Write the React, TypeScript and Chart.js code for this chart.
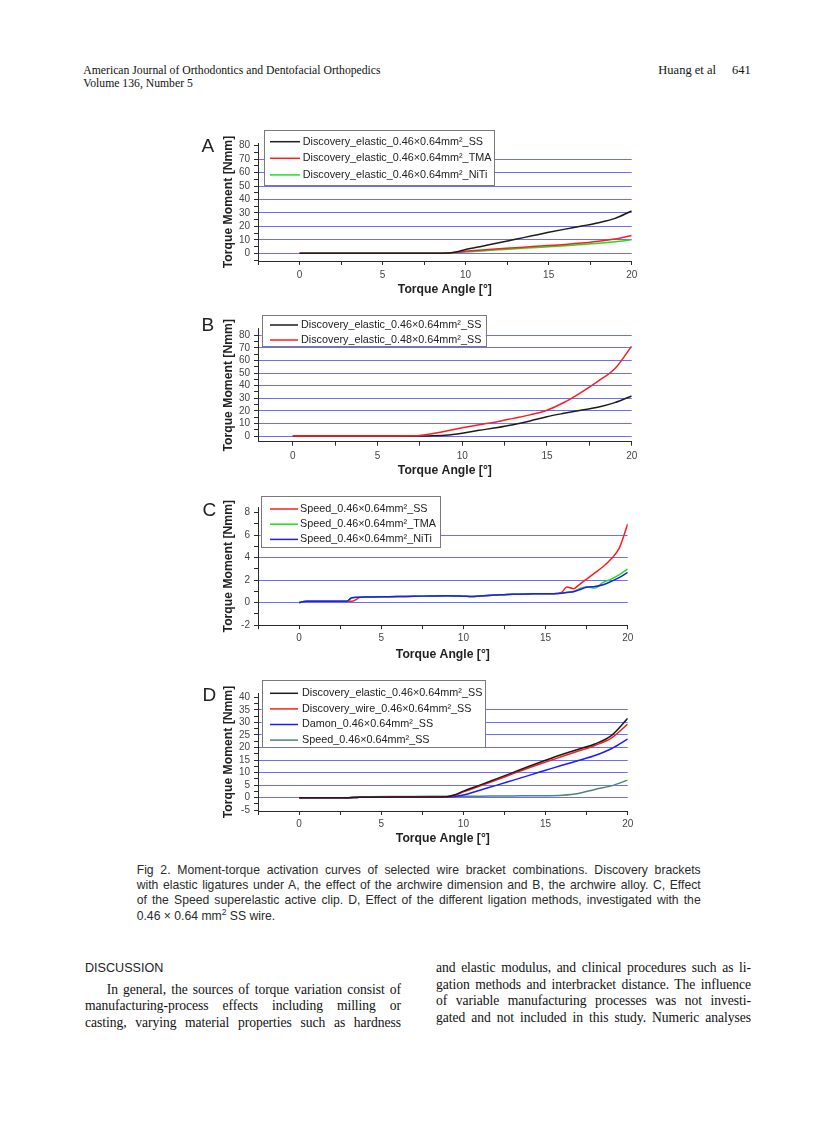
import React, { useEffect, useRef } from 'react';
import { Chart, registerables } from 'chart.js';

Chart.register(...registerables);

// ---------------- DATA ----------------
// Panel A
const angleA = [0, 2, 4, 6, 8, 9, 9.5, 10, 11, 12, 13, 14, 15, 16, 17, 18, 19, 20];
const momentA_SS = [0, 0, 0, 0, 0.1, 0.3, 1.2, 2.8, 5.3, 7.8, 10.4, 13, 15.6, 18, 20.3, 22.8, 26, 31.5];
const momentA_TMA = [0, 0, 0, 0, 0, 0.3, 0.8, 1.5, 2.5, 3.4, 4.2, 5, 5.8, 6.6, 7.6, 9, 10.6, 13.2];
const momentA_NiTi = [0, 0, 0, 0, 0, 0.2, 0.6, 1.0, 1.8, 2.6, 3.4, 4.1, 4.8, 5.6, 6.5, 7.5, 8.6, 10];

// Panel B
const angleB = [0, 2, 4, 6, 7, 7.5, 8, 9, 10, 11, 12, 13, 14, 15, 16, 17, 18, 19, 20];
const momentB_046 = [0, 0, 0, 0, 0, 0, 0.1, 0.6, 2.2, 4.5, 6.6, 9, 12, 15.3, 18, 20.5, 22.8, 26.5, 31.8];
const momentB_048 = [0, 0, 0, 0, 0.2, 0.5, 1.4, 3.8, 6.6, 9, 11.2, 14, 16.8, 20.5, 26.6, 34.5, 43.4, 53.4, 71.3];

// Panel C
const angleC = [0, 0.3, 0.5, 1, 2, 2.9, 3.2, 3.5, 3.7, 4, 5, 6, 7, 8, 9, 10, 10.5, 11, 12, 13, 14, 15, 15.5, 16, 16.3, 16.7, 17, 17.5, 18, 18.5, 19, 19.5, 20];
const momentC_SS = [0.02, 0.1, 0.12, 0.12, 0.12, 0.12, 0.12, 0.3, 0.48, 0.5, 0.52, 0.55, 0.57, 0.6, 0.62, 0.58, 0.55, 0.6, 0.68, 0.75, 0.78, 0.8, 0.8, 0.95, 1.4, 1.25, 1.55, 2.1, 2.65, 3.2, 3.9, 4.9, 7.0];
const momentC_TMA = [0.02, 0.1, 0.12, 0.12, 0.12, 0.12, 0.42, 0.47, 0.48, 0.5, 0.52, 0.55, 0.57, 0.6, 0.62, 0.58, 0.55, 0.6, 0.68, 0.75, 0.78, 0.8, 0.8, 0.85, 0.92, 1.0, 1.2, 1.42, 1.3, 1.8, 2.1, 2.5, 3.0];
const momentC_NiTi = [0.02, 0.1, 0.12, 0.12, 0.12, 0.13, 0.45, 0.48, 0.49, 0.5, 0.52, 0.55, 0.57, 0.6, 0.62, 0.58, 0.55, 0.6, 0.68, 0.75, 0.78, 0.8, 0.8, 0.85, 0.9, 0.98, 1.12, 1.38, 1.45, 1.6, 1.9, 2.25, 2.7];

// Panel D
const angleD = [0, 2, 3, 3.5, 4, 6, 8, 9, 9.5, 10, 11, 12, 13, 14, 15, 16, 17, 18, 19, 20];
const momentD_elastic = [0, 0, 0, 0.1, 0.2, 0.3, 0.3, 0.4, 1.2, 2.6, 5, 7.5, 10, 12.5, 14.9, 17.2, 19.3, 21.4, 24.7, 31.6];
const momentD_wire = [0, 0, 0, 0.1, 0.2, 0.3, 0.3, 0.4, 1.0, 2.3, 4.6, 7.0, 9.5, 11.9, 14.2, 16.4, 18.6, 20.8, 23.7, 29.3];
const momentD_damon = [0, 0, 0, 0.1, 0.2, 0.3, 0.3, 0.35, 0.5, 1.05, 3.0, 4.9, 6.9, 8.9, 10.9, 12.9, 14.8, 16.8, 19.5, 23.4];
const momentD_speed = [0, 0, 0, 0.3, 0.4, 0.5, 0.55, 0.6, 0.6, 0.6, 0.6, 0.65, 0.7, 0.75, 0.8, 1.0, 1.7, 3.3, 4.7, 7.0];

// Tick labels
const xMajorTicks = [0, 5, 10, 15, 20];
const xMinorTicks = [-2.5, 2.5, 7.5, 12.5, 17.5];
const yMajorAB = [0, 10, 20, 30, 40, 50, 60, 70, 80];
const yMinorAB = [-5, 5, 15, 25, 35, 45, 55, 65, 75];
const yMajorC = [-2, 0, 2, 4, 6, 8];
const yMinorC = [-1, 1, 3, 5, 7];
const yMajorD = [-5, 0, 5, 10, 15, 20, 25, 30, 35, 40];
const yMinorD = [-2.5, 2.5, 7.5, 12.5, 17.5, 22.5, 27.5, 32.5, 37.5];
const gridA = [0, 10, 20, 30, 40, 50, 60, 70];
const gridB = [0, 10, 20, 30, 40, 50, 60, 70, 80];
const gridC = [0, 2, 4, 6];
const gridD = [0, 5, 10, 15, 20, 25, 30, 35];

const X_TITLE = 'Torque Angle [°]';
const Y_TITLE = 'Torque Moment [Nmm]';

// ---------------- STYLE ----------------
const BLACK = '#1c1c1c';
const RED = '#ff1c1c';
const GREEN = '#22dd22';
const BLUE = '#1c1cff';
const TEAL = '#4f8575';
const GRID_BLUE = '#6c6cff';
const AXIS_COLOR = '#2a2a2a';
const SANS = '"Liberation Sans", Arial, sans-serif';
const SERIF = '"Liberation Serif", "Times New Roman", serif';
const CANVAS_LEFT = 190;
const CANVAS_W = 460;

type Series = { label: string; xs: number[]; ys: number[]; color: string; order: number };
type Legend = { x: number; y: number; w: number; h: number; first: number; row: number; l1: number; l2: number; tx: number };
type PanelCfg = {
  letter: string;
  letterX: number;
  letterY: number;
  canvasTop: number;
  canvasBottom: number;
  plotLeft: number;
  plotRight: number;
  plotTop: number;
  plotBottom: number;
  xMin: number;
  xMax: number;
  yMin: number;
  yMax: number;
  yMajor: number[];
  yMinor: number[];
  grid: number[];
  xLabelGap: number;
  xTitleY: number;
  yTitleX: number;
  legend: Legend;
  series: Series[];
};

const PANELS: PanelCfg[] = [
  {
    letter: 'A', letterX: 201.5, letterY: 151.7,
    canvasTop: 123, canvasBottom: 300,
    plotLeft: 258, plotRight: 631.7, plotTop: 143, plotBottom: 261,
    xMin: -2.5, xMax: 20, yMin: -5.7, yMax: 82,
    yMajor: yMajorAB, yMinor: yMinorAB, grid: gridA,
    xLabelGap: 14.5, xTitleY: 290, yTitleX: 228.3,
    legend: { x: 264, y: 130, w: 230, h: 55, first: 11.7, row: 16.6, l1: 6, l2: 36, tx: 38.7 },
    series: [
      { label: 'Discovery_elastic_0.46×0.64mm²_SS', xs: angleA, ys: momentA_SS, color: BLACK, order: 0 },
      { label: 'Discovery_elastic_0.46×0.64mm²_TMA', xs: angleA, ys: momentA_TMA, color: RED, order: 1 },
      { label: 'Discovery_elastic_0.46×0.64mm²_NiTi', xs: angleA, ys: momentA_NiTi, color: GREEN, order: 2 },
    ],
  },
  {
    letter: 'B', letterX: 201.5, letterY: 331,
    canvasTop: 305, canvasBottom: 481,
    plotLeft: 258, plotRight: 631.7, plotTop: 328.9, plotBottom: 441.7,
    xMin: -2.05, xMax: 20, yMin: -4.5, yMax: 85,
    yMajor: yMajorAB, yMinor: yMinorAB, grid: gridB,
    xLabelGap: 15, xTitleY: 470.7, yTitleX: 228.3,
    legend: { x: 261.7, y: 315, w: 224, h: 30.7, first: 10, row: 15, l1: 8.3, l2: 36.3, tx: 39.3 },
    series: [
      { label: 'Discovery_elastic_0.46×0.64mm²_SS', xs: angleB, ys: momentB_046, color: BLACK, order: 1 },
      { label: 'Discovery_elastic_0.48×0.64mm²_SS', xs: angleB, ys: momentB_048, color: RED, order: 0 },
    ],
  },
  {
    letter: 'C', letterX: 202.5, letterY: 516,
    canvasTop: 488, canvasBottom: 665,
    plotLeft: 258, plotRight: 627.7, plotTop: 507.1, plotBottom: 625.2,
    xMin: -2.5, xMax: 20, yMin: -2, yMax: 8.5,
    yMajor: yMajorC, yMinor: yMinorC, grid: gridC,
    xLabelGap: 12.8, xTitleY: 654.3, yTitleX: 228.3,
    legend: { x: 260.7, y: 496, w: 179.3, h: 50.7, first: 13, row: 15.2, l1: 9.3, l2: 37.3, tx: 39.3 },
    series: [
      { label: 'Speed_0.46×0.64mm²_SS', xs: angleC, ys: momentC_SS, color: RED, order: 2 },
      { label: 'Speed_0.46×0.64mm²_TMA', xs: angleC, ys: momentC_TMA, color: GREEN, order: 1 },
      { label: 'Speed_0.46×0.64mm²_NiTi', xs: angleC, ys: momentC_NiTi, color: BLUE, order: 0 },
    ],
  },
  {
    letter: 'D', letterX: 202.5, letterY: 701,
    canvasTop: 670, canvasBottom: 849,
    plotLeft: 258, plotRight: 627.7, plotTop: 693, plotBottom: 811,
    xMin: -2.5, xMax: 20, yMin: -5.3, yMax: 41.7,
    yMajor: yMajorD, yMinor: yMinorD, grid: gridD,
    xLabelGap: 12.8, xTitleY: 838.3, yTitleX: 228.3,
    legend: { x: 261.7, y: 680, w: 223.3, h: 66.7, first: 13.3, row: 15.6, l1: 8.3, l2: 36.3, tx: 40.3 },
    series: [
      { label: 'Discovery_elastic_0.46×0.64mm²_SS', xs: angleD, ys: momentD_elastic, color: BLACK, order: 0 },
      { label: 'Discovery_wire_0.46×0.64mm²_SS', xs: angleD, ys: momentD_wire, color: RED, order: 1 },
      { label: 'Damon_0.46×0.64mm²_SS', xs: angleD, ys: momentD_damon, color: BLUE, order: 2 },
      { label: 'Speed_0.46×0.64mm²_SS', xs: angleD, ys: momentD_speed, color: TEAL, order: 3 },
    ],
  },
];

const has = (arr: number[], v: number) => arr.some((m) => Math.abs(m - v) < 1e-6);

const decoPlugin = {
  id: 'panelDeco',
  afterDraw(chart: any, _args: any, opts: any) {
    const ctx = chart.ctx as CanvasRenderingContext2D;
    ctx.save();
    ctx.fillStyle = '#222';
    ctx.font = `19px ${SANS}`;
    ctx.textAlign = 'left';
    ctx.textBaseline = 'alphabetic';
    ctx.fillText(opts.letter, opts.letterX, opts.letterY);
    const lg = opts.legend;
    ctx.fillStyle = '#ffffff';
    ctx.fillRect(lg.x, lg.y, lg.w, lg.h);
    ctx.strokeStyle = '#7a7a7a';
    ctx.lineWidth = 1;
    ctx.strokeRect(Math.round(lg.x) + 0.5, Math.round(lg.y) + 0.5, Math.round(lg.w), Math.round(lg.h));
    chart.data.datasets.forEach((ds: any, i: number) => {
      const cy = lg.y + lg.first + i * lg.row;
      ctx.strokeStyle = ds.borderColor;
      ctx.lineWidth = 1.5;
      ctx.beginPath();
      ctx.moveTo(lg.x + lg.l1, cy);
      ctx.lineTo(lg.x + lg.l2, cy);
      ctx.stroke();
      ctx.fillStyle = '#222';
      ctx.font = `10.8px ${SANS}`;
      ctx.textBaseline = 'middle';
      ctx.fillText(ds.label, lg.x + lg.tx, cy);
    });
    ctx.restore();
  },
};

function Panel({ cfg }: { cfg: PanelCfg }) {
  const ref = useRef<HTMLCanvasElement>(null);
  const H = cfg.canvasBottom - cfg.canvasTop;
  useEffect(() => {
    if (!ref.current) return;
    const top = cfg.canvasTop;
    const padTop = cfg.plotTop - top;
    const padRight = CANVAS_LEFT + CANVAS_W - cfg.plotRight;
    const yW = cfg.plotLeft - CANVAS_LEFT;
    const xH = cfg.canvasBottom - cfg.plotBottom;
    const tickLen = 4;
    const tickFont = { family: SANS, size: 10, lineHeight: 1.2 };
    const titleFont = { family: SANS, size: 12.2, weight: 'bold' as const, lineHeight: 1.2 };
    const xTicks = [...xMajorTicks, ...xMinorTicks].filter((v) => v >= cfg.xMin - 1e-6 && v <= cfg.xMax + 1e-6).sort((a, b) => a - b);
    const yTicks = [...cfg.yMajor, ...cfg.yMinor].filter((v) => v >= cfg.yMin - 1e-6 && v <= cfg.yMax + 1e-6).sort((a, b) => a - b);
    const xLabelPad = cfg.xLabelGap - tickLen - 6;
    const xTitlePadBottom = cfg.canvasBottom - cfg.xTitleY - 7.3;
    const yTitlePadTop = cfg.yTitleX - CANVAS_LEFT - 7.3;

    const chart = new Chart(ref.current, {
      type: 'line',
      data: {
        datasets: cfg.series.map((s) => ({
          label: s.label,
          data: s.xs.map((x, i) => ({ x, y: s.ys[i] })),
          borderColor: s.color,
          backgroundColor: s.color,
          borderWidth: 1.5,
          pointRadius: 0,
          fill: false,
          cubicInterpolationMode: 'monotone' as const,
          order: s.order,
        })),
      },
      options: {
        responsive: false,
        animation: false,
        events: [],
        layout: { padding: { left: 0, right: padRight, top: padTop, bottom: 0 } },
        plugins: {
          legend: { display: false },
          tooltip: { enabled: false },
          panelDeco: {
            letter: cfg.letter,
            letterX: cfg.letterX - CANVAS_LEFT,
            letterY: cfg.letterY - top,
            legend: { ...cfg.legend, x: cfg.legend.x - CANVAS_LEFT, y: cfg.legend.y - top },
          },
        } as any,
        scales: {
          x: {
            type: 'linear',
            min: cfg.xMin,
            max: cfg.xMax,
            afterBuildTicks: (s: any) => {
              s.ticks = xTicks.map((v) => ({ value: v }));
            },
            afterFit: (s: any) => {
              s.height = xH;
              s.paddingLeft = 0;
              s.paddingRight = 0;
            },
            grid: { display: true, drawOnChartArea: false, tickLength: tickLen, color: AXIS_COLOR, tickColor: AXIS_COLOR, lineWidth: 1 },
            border: { display: true, color: AXIS_COLOR, width: 1 },
            ticks: {
              autoSkip: false,
              maxRotation: 0,
              minRotation: 0,
              padding: xLabelPad,
              color: '#444',
              font: tickFont,
              callback: (v: any) => (has(xMajorTicks, Number(v)) ? String(v) : ''),
            },
            title: { display: true, text: X_TITLE, color: '#222', font: titleFont, padding: { top: 0, bottom: xTitlePadBottom } },
          },
          y: {
            type: 'linear',
            min: cfg.yMin,
            max: cfg.yMax,
            afterBuildTicks: (s: any) => {
              s.ticks = yTicks.map((v) => ({ value: v }));
            },
            afterFit: (s: any) => {
              s.width = yW;
              s.paddingTop = 0;
              s.paddingBottom = 0;
            },
            grid: {
              display: true,
              drawOnChartArea: true,
              tickLength: tickLen,
              tickColor: AXIS_COLOR,
              lineWidth: 1,
              color: (ctx: any) => (ctx.tick && has(cfg.grid, ctx.tick.value) ? GRID_BLUE : 'rgba(0,0,0,0)'),
            },
            border: { display: true, color: AXIS_COLOR, width: 1 },
            ticks: {
              autoSkip: false,
              padding: 4,
              color: '#444',
              font: tickFont,
              callback: (v: any) => (has(cfg.yMajor, Number(v)) ? String(v) : ''),
            },
            title: { display: true, text: Y_TITLE, color: '#222', font: titleFont, padding: { top: yTitlePadTop, bottom: 0 } },
          },
        },
      } as any,
      plugins: [decoPlugin],
    });
    return () => chart.destroy();
  }, [cfg]);
  return (
    <canvas
      ref={ref}
      width={CANVAS_W}
      height={H}
      style={{ position: 'absolute', left: CANVAS_LEFT, top: cfg.canvasTop, width: CANVAS_W, height: H }}
    />
  );
}

const captionLines = [
  'Fig 2.  Moment-torque activation curves of selected wire bracket combinations. Discovery brackets',
  'with elastic ligatures under A, the effect of the archwire dimension and B, the archwire alloy. C, Effect',
  'of the Speed superelastic active clip. D, Effect of the different ligation methods, investigated with the',
];
const leftColumn = [
  'In general, the sources of torque variation consist of',
  'manufacturing-process effects including milling or',
  'casting, varying material properties such as hardness',
];
const rightColumn = [
  'and elastic modulus, and clinical procedures such as li-',
  'gation methods and interbracket distance. The influence',
  'of variable manufacturing processes was not investi-',
  'gated and not included in this study. Numeric analyses',
];

const justified: React.CSSProperties = { textAlign: 'justify', textAlignLast: 'justify' as any, whiteSpace: 'nowrap', overflow: 'visible' };

export default function App() {
  return (
    <div style={{ position: 'absolute', left: 0, top: 0, width: 838, height: 1122, background: '#fff', overflow: 'hidden' }}>
      <div style={{ position: 'absolute', left: 83.3, top: 63.6, fontFamily: SERIF, fontSize: 11.7, lineHeight: '13.4px', color: '#111', whiteSpace: 'nowrap' }}>
        <div>American Journal of Orthodontics and Dentofacial Orthopedics</div>
        <div>Volume 136, Number 5</div>
      </div>
      <div style={{ position: 'absolute', right: 87.3, top: 63.1, fontFamily: SERIF, fontSize: 12.5, lineHeight: '14px', color: '#111', whiteSpace: 'nowrap' }}>
        <span>Huang et al</span>
        <span style={{ marginLeft: 16 }}>641</span>
      </div>

      {PANELS.map((p) => (
        <Panel key={p.letter} cfg={p} />
      ))}

      <div style={{ position: 'absolute', left: 136.7, top: 863, width: 564, fontFamily: SANS, fontSize: 12.2, lineHeight: '15.23px', color: '#2a2a2a' }}>
        {captionLines.map((l, i) => (
          <div key={i} style={justified}>{l}</div>
        ))}
        <div style={{ whiteSpace: 'nowrap', height: '15.23px' }}>
          0.46 × 0.64 mm<span style={{ fontSize: 8.5, position: 'relative', top: -4.5 }}>2</span> SS wire.
        </div>
      </div>

      <div style={{ position: 'absolute', left: 85, top: 961.2, fontFamily: SANS, fontSize: 12.6, lineHeight: '14px', color: '#222' }}>
        DISCUSSION
      </div>

      <div style={{ position: 'absolute', left: 85, top: 981.8, width: 316, fontFamily: SERIF, fontSize: 13.6, lineHeight: '16.65px', color: '#111', letterSpacing: -0.05 }}>
        {leftColumn.map((l, i) => (
          <div key={i} style={{ ...justified, paddingLeft: i === 0 ? 21.7 : 0 }}>{l}</div>
        ))}
      </div>
      <div style={{ position: 'absolute', left: 436, top: 960.2, width: 315, fontFamily: SERIF, fontSize: 13.6, lineHeight: '16.45px', color: '#111', letterSpacing: -0.05 }}>
        {rightColumn.map((l, i) => (
          <div key={i} style={justified}>{l}</div>
        ))}
      </div>
    </div>
  );
}
